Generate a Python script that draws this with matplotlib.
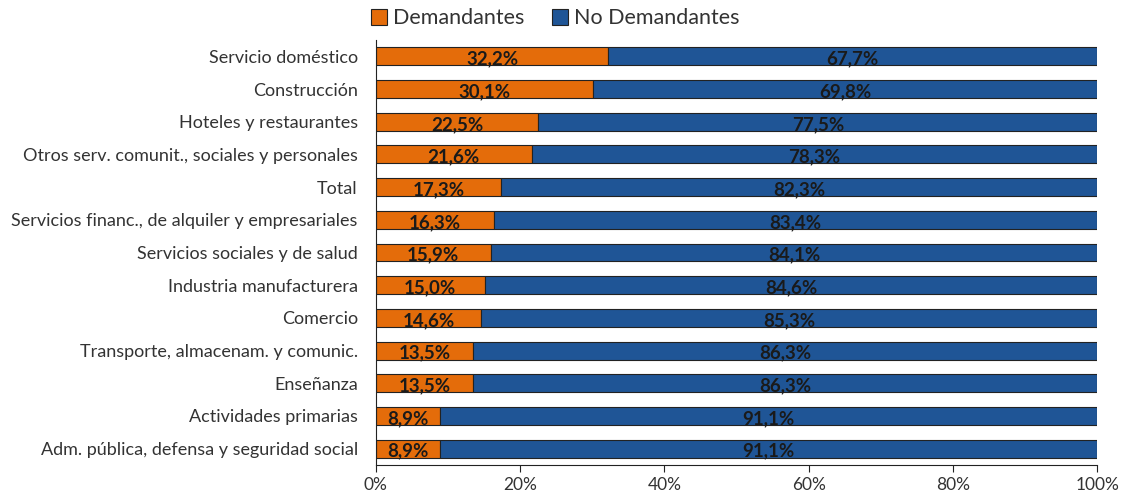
import matplotlib.pyplot as plt
import numpy as np

plt.rcParams['font.family'] = ['Lato', 'DejaVu Sans']

categorias = ["Servicio doméstico", "Construcción", "Hoteles y restaurantes",
              "Otros serv. comunit., sociales y personales", "Total",
              "Servicios financ., de alquiler y empresariales",
              "Servicios sociales y de salud", "Industria manufacturera",
              "Comercio", "Transporte, almacenam. y comunic.", "Enseñanza",
              "Actividades primarias", "Adm. pública, defensa y seguridad social"]
demandantes = [32.2, 30.1, 22.5, 21.6, 17.3, 16.3, 15.9, 15.0, 14.6, 13.5, 13.5, 8.9, 8.9]
no_demandantes = [67.7, 69.8, 77.5, 78.3, 82.3, 83.4, 84.1, 84.6, 85.3, 86.3, 86.3, 91.1, 91.1]

naranja = '#E46C0A'
azul = '#1F5596'

fig = plt.figure(figsize=(11.22, 5.01), dpi=100)
ax = fig.add_axes([0.335, 0.072, 0.643, 0.848])

y = np.arange(len(categorias))
d = np.array(demandantes)
n = np.array(no_demandantes)
total = d + n
# se normaliza para que cada barra llegue a 100%
d_pct = d / total * 100
n_pct = n / total * 100

ax.barh(y, d_pct, height=0.55, color=naranja, edgecolor='#222222', linewidth=0.8, label='Demandantes')
ax.barh(y, n_pct, left=d_pct, height=0.55, color=azul, edgecolor='#222222', linewidth=0.8, label='No Demandantes')

def fmt(v):
    return f"{v:.1f}%".replace('.', ',')

for i in range(len(categorias)):
    ax.text(d_pct[i] / 2, y[i] + 0.08, fmt(d[i]), ha='center', va='center',
            fontsize=13.5, fontweight='bold', color='#1a1a1a')
    ax.text(d_pct[i] + n_pct[i] / 2, y[i] + 0.08, fmt(n[i]), ha='center', va='center',
            fontsize=13.5, fontweight='bold', color='#1a1a1a')

ax.set_ylim(len(categorias) - 0.5, -0.5)
ax.set_xlim(0, 100)
ax.set_yticks(y)
ax.set_yticklabels(categorias, fontsize=13, color='#333333')
ax.tick_params(axis='y', length=0, pad=13)
ax.set_xticks([0, 20, 40, 60, 80, 100])
ax.set_xticklabels(['0%', '20%', '40%', '60%', '80%', '100%'], fontsize=12.5, color='#333333')
ax.tick_params(axis='x', length=5, direction='out', color='#222222')

for s in ['top', 'right']:
    ax.spines[s].set_visible(False)
ax.spines['left'].set_color('#222222')
ax.spines['bottom'].set_color('#222222')

fig.legend(loc='upper center', bbox_to_anchor=(0.495, 1.022), ncol=2, frameon=False,
           fontsize=15.5, handlelength=0.75, handleheight=0.75, columnspacing=1.25, handletextpad=0.3,
           labelcolor='#333333')

fig.savefig('out.png', dpi=100)
